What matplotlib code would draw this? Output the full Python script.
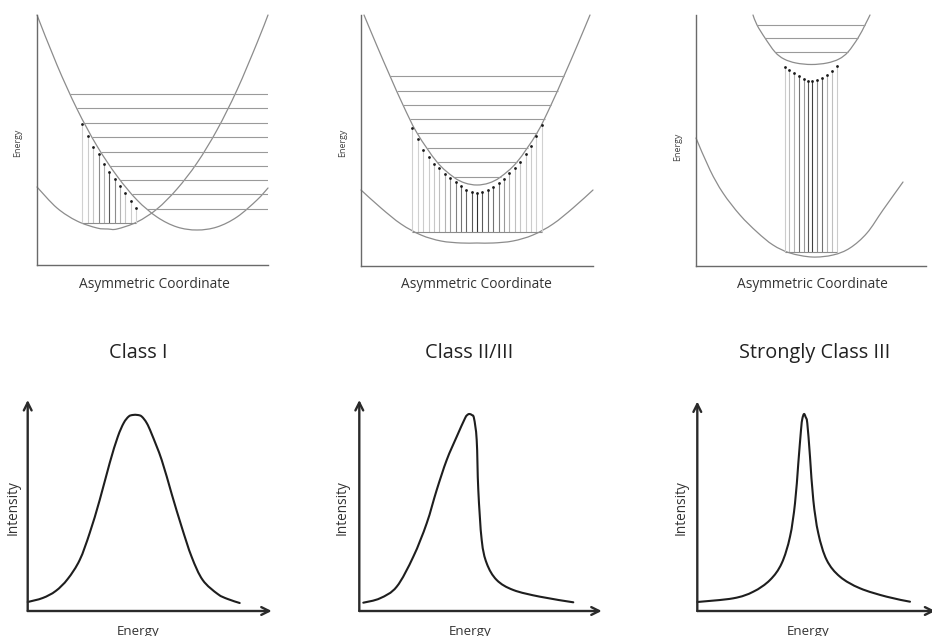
import matplotlib
matplotlib.use("Agg")
import matplotlib.pyplot as plt
from matplotlib.path import Path
from matplotlib.patches import PathPatch

plt.rcParams["font.family"] = ["Open Sans", "DejaVu Sans"]

FIG_W, FIG_H = 932, 636

###############################################################################
# Datos (unidades arbitrarias)
###############################################################################

# --- Class I : dos pozos diabáticos ---
P1_WELL_A_X = [0, 20, 40, 60, 80, 100, 120, 140, 160, 180, 200, 220, 231]
P1_WELL_A_Y = [250, 200, 156, 119, 89, 65, 48, 38, 35, 38, 48, 65, 77]
P1_WELL_B_X = [0, 20, 40, 60, 71, 80, 100, 120, 140, 160, 180, 200, 220, 231]
P1_WELL_B_Y = [78, 57, 44, 37, 36, 36, 43, 56, 76, 102, 135, 175, 222, 250]
P1_LEVEL_Y = [171, 157, 142, 128, 113, 99, 85, 71, 56]
P1_LEVEL_X0 = [33, 39.5, 47, 55, 63.5, 72.5, 83, 94.5, 110]
P1_LEVEL_X1 = [231] * 9
P1_DOT_X = [45, 51, 56, 62, 67, 72, 78, 83, 88, 94, 99]
P1_DOT_Y = [141, 129, 118, 111, 101, 93, 86, 79, 72, 64, 57]
P1_BASE_Y = 42
P1_SHADE = [0.82, 0.8, 0.78, 0.55, 0.7, 0.35, 0.55, 0.7, 0.78, 0.8, 0.82]

# --- Class II/III ---
P2_UPPER_X = [3, 16, 29, 42, 56, 76, 92.5, 104, 116, 128, 139.5, 156, 176, 190, 203, 216, 229]
P2_UPPER_Y = [251, 220, 190, 161, 133, 104, 89, 83, 81, 83, 89, 104, 133, 161, 190, 220, 251]
P2_LOWER_X = [0, 20, 40, 60, 80, 100, 116, 132, 152, 172, 192, 212, 232]
P2_LOWER_Y = [76, 58, 42, 31, 25, 23, 23, 23, 25, 31, 42, 58, 76]
P2_LEVEL_Y = [190, 175, 161, 147, 133, 118, 104, 89]
P2_LEVEL_X0 = [29, 35.5, 42, 48.5, 56, 65.5, 76, 92.5]
P2_LEVEL_X1 = [203, 196.5, 190, 183.5, 176, 166.5, 156, 139.5]
P2_DOT_X = [51, 57, 62, 68, 73, 78, 84, 89, 95, 100, 105, 111, 116,
            121, 127, 132, 138, 143, 148, 154, 159, 165, 170, 175, 181]
P2_DOT_Y = [138, 127, 116, 109, 102, 98, 92, 88, 84, 80, 76, 74, 73,
            74, 76, 79, 83, 87, 93, 98, 104, 112, 120, 130, 141]
P2_BASE_Y = 34
P2_SHADE = [0.82, 0.82, 0.8, 0.8, 0.78, 0.75, 0.7, 0.6, 0.5, 0.45, 0.4, 0.35, 0.2,
            0.35, 0.4, 0.45, 0.5, 0.6, 0.7, 0.75, 0.78, 0.8, 0.8, 0.82, 0.82]

# --- Strongly Class III ---
P3_UPPER_X = [57, 61, 69, 79, 88, 100, 115.5, 131, 143, 152, 162, 169, 174]
P3_UPPER_Y = [251, 241, 228, 214, 207, 203, 201.5, 203, 207, 214, 228, 241, 251]
P3_LOWER_X = [0, 14, 27, 44, 61, 77, 94, 116, 137, 154, 171, 187, 207]
P3_LOWER_Y = [128, 96, 73, 51, 34, 21, 13, 9, 11, 18, 33, 56, 84]
P3_LEVEL_Y = [241, 228, 214]
P3_LEVEL_X0 = [61, 69, 79]
P3_LEVEL_X1 = [169, 162, 152]
P3_DOT_X = [89, 93, 98, 103, 108, 112, 116, 121, 126, 131, 136, 141]
P3_DOT_Y = [199, 196, 193, 190, 187, 185, 185, 186, 188, 191, 195, 200]
P3_BASE_Y = 14
P3_SHADE = [0.8, 0.75, 0.7, 0.45, 0.6, 0.35, 0.25, 0.55, 0.45, 0.7, 0.75, 0.8]

# --- Espectros (intensidad vs energía) ---
S1_X = [0, 15, 28, 40, 52, 62, 72, 82, 90, 96, 101, 105, 110, 114,
        119, 124, 134, 144, 154, 164, 175, 190, 200, 212]
S1_Y = [9, 13, 20, 32, 51, 78, 111, 148, 174, 188, 194.5, 196, 196, 194.5,
        188, 177, 151, 117, 84, 54, 31, 17, 12, 8]

S2_X = [4, 20.7, 37.4, 54, 67.4, 77.4, 87.4, 97.4, 105.7, 108, 110, 112.5, 114.7,
        117.4, 119, 122.4, 127.4, 137.4, 154, 180.7, 214]
S2_Y = [8.3, 12.7, 24.3, 54.3, 87.7, 121, 151, 174.3, 192.7, 196, 197, 196, 192.7,
        171, 121, 71, 47.7, 31, 21, 14.3, 8.7]

S3_X = [0, 36, 56, 72.7, 84.4, 92.7, 97.7, 101, 103.7, 105, 106.7, 108.3, 110,
        112.7, 116, 121, 129.4, 142.7, 162.7, 189.4, 212.7]
S3_Y = [9, 12.7, 19.3, 31, 47.7, 74.3, 107.7, 147.7, 181, 192, 197, 194, 187.7,
        154.3, 111, 77.7, 51, 34.3, 22.7, 14.3, 9.3]

TITLES = ["Class I", "Class II/III", "Strongly Class III"]


###############################################################################
# Utilidades
###############################################################################

def fx(px):
    return px / FIG_W


def fy(py):
    return 1 - py / FIG_H


def smooth_curve(ax, xs, ys, **kw):
    """Dibuja una curva suave (Bezier tipo Catmull-Rom) que pasa por los puntos leídos."""
    pts = list(zip(xs, ys))
    verts = [pts[0]]
    codes = [Path.MOVETO]
    n = len(pts)
    for i in range(n - 1):
        p0 = pts[i - 1] if i > 0 else pts[i]
        p1 = pts[i]
        p2 = pts[i + 1]
        p3 = pts[i + 2] if i + 2 < n else pts[i + 1]
        c1 = (p1[0] + (p2[0] - p0[0]) / 6, p1[1] + (p2[1] - p0[1]) / 6)
        c2 = (p2[0] - (p3[0] - p1[0]) / 6, p2[1] - (p3[1] - p1[1]) / 6)
        verts += [c1, c2, p2]
        codes += [Path.CURVE4] * 3
    patch = PathPatch(Path(verts, codes), facecolor="none", clip_on=False,
                      capstyle="round", joinstyle="round", **kw)
    ax.add_patch(patch)
    return patch


def add_box(fig, x0, y0, w, h):
    """Ejes cuyo origen está en el pixel (x0, y0), 1 unidad = 1 px."""
    ax = fig.add_axes([fx(x0), fy(y0), w / FIG_W, h / FIG_H])
    ax.set_xlim(0, w)
    ax.set_ylim(0, h)
    ax.set_xticks([])
    ax.set_yticks([])
    ax.patch.set_alpha(0)
    return ax


def well_panel(fig, box, curves, levels, dots, base_y, shades, energy_pos, coord_pos):
    ax = add_box(fig, *box)
    for s in ["top", "right"]:
        ax.spines[s].set_visible(False)
    for s in ["left", "bottom"]:
        ax.spines[s].set_color("#6a6a6a")
        ax.spines[s].set_linewidth(1.0)

    for xs, ys in curves:
        smooth_curve(ax, xs, ys, edgecolor="#8c8c8c", lw=0.9)

    ly, lx0, lx1 = levels
    ax.hlines(ly, lx0, lx1, colors="#9a9a9a", lw=0.8)

    dx, dy = dots
    ax.vlines(dx, base_y, dy, colors=[str(g) for g in shades], lw=0.8)
    ax.hlines([base_y], min(dx), max(dx), colors="#8c8c8c", lw=0.8)
    ax.scatter(dx, dy, s=4, color="#1a1a1a", zorder=5, linewidths=0)

    fig.text(fx(energy_pos[0]), fy(energy_pos[1]), "Energy", rotation=90,
             ha="center", va="center", fontsize=6.4, color="#444444")
    fig.text(fx(coord_pos[0]), fy(coord_pos[1]), "Asymmetric Coordinate",
             ha="center", va="center", fontsize=9.9, color="#333333")
    return ax


def band_panel(fig, box, xs, ys, title_pos, int_pos, en_pos, title):
    ax = add_box(fig, *box)
    for s in ax.spines.values():
        s.set_visible(False)
    w, h = box[2], box[3]
    arrow = dict(arrowstyle="->", lw=1.7, color="#2a2a2a", mutation_scale=14,
                 shrinkA=0, shrinkB=0)
    ax.annotate("", xy=(0, h), xytext=(0, 0), arrowprops=arrow)
    ax.annotate("", xy=(w, 0), xytext=(0, 0), arrowprops=arrow)
    smooth_curve(ax, xs, ys, edgecolor="#1e1e1e", lw=1.5)

    fig.text(fx(title_pos[0]), fy(title_pos[1]), title, ha="center", va="center",
             fontsize=14.3, color="#222222")
    fig.text(fx(int_pos[0]), fy(int_pos[1]), "Intensity", rotation=90,
             ha="center", va="center", fontsize=9.8, color="#333333")
    fig.text(fx(en_pos[0]), fy(en_pos[1]), "Energy", ha="center", va="center",
             fontsize=9.6, color="#333333")
    return ax


###############################################################################
# Main
###############################################################################

def main():
    fig = plt.figure(figsize=(FIG_W / 100, FIG_H / 100), dpi=100)

    well_panel(
        fig, (37, 265, 231, 250),
        curves=[(P1_WELL_A_X, P1_WELL_A_Y), (P1_WELL_B_X, P1_WELL_B_Y)],
        levels=(P1_LEVEL_Y, P1_LEVEL_X0, P1_LEVEL_X1),
        dots=(P1_DOT_X, P1_DOT_Y), base_y=P1_BASE_Y, shades=P1_SHADE,
        energy_pos=(18, 143), coord_pos=(154, 284),
    )
    well_panel(
        fig, (361, 266, 232, 251),
        curves=[(P2_UPPER_X, P2_UPPER_Y), (P2_LOWER_X, P2_LOWER_Y)],
        levels=(P2_LEVEL_Y, P2_LEVEL_X0, P2_LEVEL_X1),
        dots=(P2_DOT_X, P2_DOT_Y), base_y=P2_BASE_Y, shades=P2_SHADE,
        energy_pos=(343, 143), coord_pos=(476, 284),
    )
    well_panel(
        fig, (696, 266, 230, 251),
        curves=[(P3_UPPER_X, P3_UPPER_Y), (P3_LOWER_X, P3_LOWER_Y)],
        levels=(P3_LEVEL_Y, P3_LEVEL_X0, P3_LEVEL_X1),
        dots=(P3_DOT_X, P3_DOT_Y), base_y=P3_BASE_Y, shades=P3_SHADE,
        energy_pos=(678, 147), coord_pos=(812, 284),
    )

    band_panel(fig, (27.7, 611, 244, 211), S1_X, S1_Y,
               (138, 353), (12.7, 508), (138, 631), TITLES[0])
    band_panel(fig, (359.3, 611, 242.4, 211), S2_X, S2_Y,
               (469, 353), (342, 508), (470, 631), TITLES[1])
    band_panel(fig, (697.3, 611, 238, 209.5), S3_X, S3_Y,
               (815, 353), (681, 508), (808, 631), TITLES[2])

    fig.savefig("out.png", dpi=100, facecolor="white")
    plt.close(fig)


if __name__ == "__main__":
    main()
